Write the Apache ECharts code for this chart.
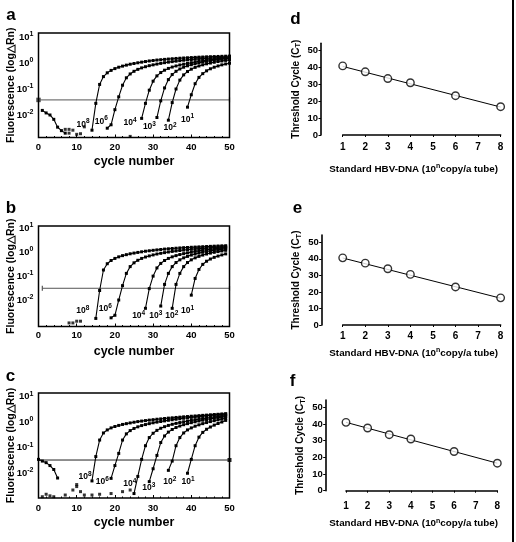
<!DOCTYPE html>
<html><head><meta charset="utf-8">
<script src="https://cdn.jsdelivr.net/npm/echarts@6/dist/echarts.min.js"></script>
<style>html,body{margin:0;padding:0;background:#fff}#c{width:516px;height:542px}</style>
</head><body><div id="c"></div>
<script>
// ---------- data ----------
const cycleTicks = [0, 10, 20, 30, 40, 50];
const exps = ['8', '6', '4', '3', '2', '1'];           // 10^n copies per tube
// panel a
const aStart = [14, 18, 27, 31, 34, 39];
const a1e8 = [0.0026,0.028,0.15,0.3,0.42,0.52,0.61,0.69,0.76,0.83,0.9,0.96,1.02,1.08,1.14,1.2,1.25,1.3,1.34,1.38,1.42,1.46,1.5,1.53,1.56,1.59,1.62,1.65,1.68,1.7,1.73,1.75,1.77,1.79,1.81,1.83,1.85];
const a1e6 = [0.0031,0.0042,0.016,0.05,0.14,0.27,0.38,0.48,0.57,0.65,0.72,0.79,0.85,0.91,0.97,1.03,1.08,1.13,1.18,1.23,1.28,1.32,1.36,1.4,1.44,1.48,1.51,1.54,1.57,1.6,1.63,1.66,1.69];
const a1e4 = [0.0074,0.028,0.09,0.2,0.32,0.43,0.53,0.62,0.7,0.77,0.84,0.9,0.96,1.03,1.1,1.17,1.23,1.29,1.35,1.4,1.45,1.5,1.55,1.6];
const a1e3 = [0.008,0.035,0.11,0.23,0.36,0.48,0.59,0.69,0.78,0.86,0.94,1.02,1.09,1.16,1.23,1.3,1.36,1.42,1.48,1.54];
const a1e2 = [0.0063,0.03,0.1,0.22,0.35,0.47,0.58,0.68,0.77,0.85,0.93,1.0,1.07,1.14,1.2,1.26,1.32];
const a1e1 = [0.02,0.06,0.16,0.28,0.39,0.5,0.6,0.69,0.77,0.85,0.92,0.98];
const aNoiseStart = 1;
const aNoise = [0.015,0.012,0.01,0.0068,0.0034,0.0025,0.002];
const aNoisePts = [[7,0.0028],[8,0.0028],[9,0.0026],[8,0.002],[10,0.0018],[11,0.0019],[12,0.0035],[24,0.0015]];
const aThreshold = 0.038;
// panel b
const bStart = [15, 19, 28, 32, 35, 40];
const b1e8 = [0.0017,0.025,0.18,0.33,0.45,0.55,0.64,0.72,0.79,0.86,0.92,0.98,1.04,1.1,1.15,1.2,1.25,1.3,1.35,1.39,1.43,1.47,1.51,1.55,1.58,1.61,1.64,1.67,1.7,1.73,1.76,1.79,1.82,1.85,1.87];
const b1e6 = [0.0018,0.0023,0.01,0.04,0.13,0.25,0.36,0.46,0.55,0.63,0.7,0.77,0.84,0.9,0.96,1.02,1.08,1.13,1.18,1.23,1.28,1.33,1.37,1.41,1.45,1.49,1.53,1.57,1.61,1.65,1.69];
const b1e4 = [0.0045,0.03,0.1,0.22,0.34,0.45,0.55,0.64,0.72,0.8,0.87,0.94,1.01,1.08,1.14,1.2,1.26,1.32,1.38,1.44,1.5,1.55];
const b1e3 = [0.0056,0.045,0.13,0.25,0.37,0.48,0.58,0.67,0.76,0.84,0.92,1.0,1.07,1.14,1.21,1.28,1.34,1.4];
const b1e2 = [0.0045,0.045,0.13,0.25,0.37,0.48,0.58,0.67,0.76,0.84,0.92,0.99,1.06,1.13,1.2];
const b1e1 = [0.016,0.08,0.19,0.31,0.42,0.52,0.61,0.69,0.77,0.85];
const bNoisePts = [[8,0.0011],[9,0.0011],[10,0.0013],[11,0.0013]];
const bThreshold = 0.031;
// panel c
const cStart = [14, 19, 25, 29, 34, 39];
const c1e8 = [0.005,0.045,0.2,0.38,0.5,0.6,0.68,0.75,0.82,0.88,0.94,1.0,1.06,1.11,1.16,1.21,1.26,1.31,1.35,1.4,1.45,1.49,1.54,1.58,1.63,1.67,1.72,1.76,1.81,1.86,1.9,1.95,2.0,2.05,2.1,2.15];
const c1e6 = [0.0063,0.02,0.06,0.2,0.35,0.47,0.57,0.66,0.74,0.81,0.88,0.95,1.01,1.07,1.13,1.19,1.25,1.31,1.37,1.43,1.49,1.55,1.61,1.67,1.73,1.79,1.85,1.91,1.97,2.03,2.1];
const c1e4 = [0.0016,0.0075,0.035,0.12,0.25,0.37,0.48,0.58,0.67,0.75,0.83,0.9,0.97,1.04,1.11,1.18,1.25,1.32,1.39,1.46,1.53,1.6,1.67,1.74,1.81];
const c1e3 = [0.0047,0.015,0.05,0.16,0.29,0.41,0.52,0.62,0.71,0.8,0.88,0.96,1.04,1.12,1.2,1.28,1.36,1.44,1.52,1.6,1.68];
const c1e2 = [0.013,0.03,0.12,0.25,0.38,0.5,0.6,0.7,0.79,0.88,0.97,1.06,1.15,1.24,1.33,1.42];
const c1e1 = [0.01,0.035,0.12,0.26,0.4,0.53,0.65,0.77,0.89,1.02,1.18];
const cNoiseStart = 0;
const cNoise = [0.035,0.03,0.026,0.02,0.014,0.0065];
const cNoisePts = [[1,0.0012],[2,0.0015],[3,0.0013],[4,0.0012],[7,0.0014],[9,0.0022],[10,0.003],[10,0.0036],[11,0.0019],[12,0.0014],[14,0.0014],[16,0.0015],[19,0.0016],[22,0.0019],[24,0.0022]];
const cThreshold = 0.033;
// panels d, e, f : threshold cycle vs log copies
const copiesN = [1, 2, 3, 4, 6, 8];
const dCt = [41, 37.5, 33.5, 31, 23.3, 16.8];
const eCt = [40.6, 37.4, 34, 30.6, 23, 16.4];
const fCt = [41, 37.6, 33.6, 31, 23.5, 16.5];
const dFit = [[1, 40.7], [8, 16.6]];
const eFit = [[1, 40.5], [8, 16.2]];
const fFit = [[1, 41], [8, 16.5]];
const ctTicks = [0, 10, 20, 30, 40, 50];

// ---------- styling / layout ----------
const FONT = '"Liberation Sans", Arial, Helvetica, sans-serif';
const B = 'bold';
const chart = echarts.init(document.getElementById('c'), null, {renderer: 'canvas'});

const grids = [
  {left: 38.5, top: 33, width: 191, height: 104.5},
  {left: 38.5, top: 226, width: 191, height: 100.5},
  {left: 38.5, top: 393, width: 191, height: 105},
  {left: 342.7, top: 43.3, width: 158, height: 91.7},
  {left: 342.7, top: 235, width: 159, height: 90},
  {left: 346, top: 400, width: 157.3, height: 90.7}
];
const logRange = [[0.00136, 14.3], [0.00078, 12.5], [0.00107, 14]];

function powLabel(v) {
  const l = Math.log10(v), n = Math.round(l);
  if (Math.abs(l - n) > 1e-6 || n < -2 || n > 1) return '';
  return '{b|10}{s|' + n + '}';
}
const powRich = {
  b: {fontSize: 9.5, fontWeight: B, fontFamily: FONT, color: '#000', lineHeight: 13},
  s: {fontSize: 7, fontWeight: B, fontFamily: FONT, color: '#000', lineHeight: 6, verticalAlign: 'top'}
};
const curveRich = {
  b: {fontSize: 8.5, fontWeight: B, fontFamily: FONT, color: '#000', lineHeight: 12},
  s: {fontSize: 6.5, fontWeight: B, fontFamily: FONT, color: '#000', lineHeight: 6, verticalAlign: 'top'}
};

const xAxes = [], yAxes = [], series = [];
const cycNameGap = [17.5, 19, 18.5], cycMargin = [5, 4, 5];
for (let i = 0; i < 3; i++) {
  xAxes.push({
    type: 'value', gridIndex: i, min: 0, max: 50, interval: 10,
    axisLine: {show: false},
    axisTick: {show: true, inside: true, length: 3, lineStyle: {color: '#000', width: 1}},
    minorTick: {show: true, splitNumber: 5, length: 1.5, lineStyle: {color: '#000'}},
    splitLine: {show: false},
    axisLabel: {customValues: cycleTicks, margin: cycMargin[i], fontSize: 9.5, fontWeight: B, fontFamily: FONT, color: '#000'},
    name: 'cycle number', nameLocation: 'middle', nameGap: cycNameGap[i],
    nameMoveOverlap: false,
    nameTextStyle: {fontSize: 12.5, fontWeight: B, fontFamily: FONT, color: '#000'}
  });
  yAxes.push({
    type: 'log', logBase: 10, gridIndex: i, min: logRange[i][0], max: logRange[i][1],
    axisLine: {show: false}, axisTick: {show: false}, splitLine: {show: false}, minorTick: {show: false},
    axisLabel: {formatter: powLabel, rich: powRich, margin: 5, showMinLabel: false, showMaxLabel: false},
    name: 'Fluorescence (log\u25B3Rn)', nameLocation: 'middle', nameGap: 22, nameRotate: 90,
    nameMoveOverlap: false,
    nameTextStyle: {fontSize: 10.5, fontWeight: B, fontFamily: FONT, color: '#000'}
  });
}
const yOffsets = [21.7, 21, 20.3], xOffsets = [2, 1, 4], xNameGaps = [26, 21, 23], xMargins = [5, 5, 6.5];
for (let k = 0; k < 3; k++) {
  const gi = k + 3;
  xAxes.push({
    type: 'value', gridIndex: gi, min: 1, max: 8, interval: 1, offset: xOffsets[k],
    axisLine: {show: true, lineStyle: {color: '#000', width: 1.6}},
    axisTick: {show: true, length: 2, lineStyle: {color: '#000'}},
    splitLine: {show: false},
    axisLabel: {margin: xMargins[k], fontSize: 10, fontWeight: B, fontFamily: FONT, color: '#000'},
    name: 'Standard HBV-DNA (10{s|n}copy/a tube)', nameLocation: 'middle', nameGap: xNameGaps[k],
    nameMoveOverlap: false,
    nameTextStyle: {fontSize: 9.8, fontWeight: B, fontFamily: FONT, color: '#000', lineHeight: 12,
      padding: [0, 16, 0, 0],
      rich: {s: {fontSize: 7, fontWeight: B, fontFamily: FONT, color: '#000', lineHeight: 6, verticalAlign: 'top'}}}
  });
  yAxes.push({
    type: 'value', gridIndex: gi, min: 0, max: 54.4, offset: yOffsets[k],
    axisLine: {show: true, lineStyle: {color: '#000', width: 1.6}},
    axisTick: {show: true, length: 2.5, customValues: ctTicks, lineStyle: {color: '#000'}},
    splitLine: {show: false},
    axisLabel: {customValues: ctTicks, margin: 3, fontSize: 9.5, fontWeight: B, fontFamily: FONT, color: '#000'},
    name: 'Threshold Cycle (C{t|T})', nameLocation: 'middle', nameGap: 19, nameRotate: 90,
    nameMoveOverlap: false,
    nameTextStyle: {fontSize: 10, fontWeight: B, fontFamily: FONT, color: '#000', lineHeight: 12,
      rich: {t: {fontSize: 7.5, fontWeight: B, fontFamily: FONT, color: '#000', lineHeight: 7, verticalAlign: 'bottom'}}}
  });
}

function curve(gi, start, vals, exp, off) {
  return {
    type: 'line', xAxisIndex: gi, yAxisIndex: gi, silent: true, animation: false,
    symbol: 'rect', symbolSize: 3, showAllSymbol: true,
    lineStyle: {color: '#000', width: 1.1}, itemStyle: {color: '#000'},
    data: vals.map((v, i) => {
      const item = {value: [start + i, v]};
      if (i === 0) item.label = {show: true, position: 'inside', offset: off,
        formatter: '{b|10}{s|' + exp + '}', rich: curveRich};
      return item;
    })
  };
}
const labelOffsets = [
  [[-9, -6], [-6, -7], [-11.5, 4], [-7.5, 9], [1.6, 7.5], [0, 12]],
  [[-13, -8], [-5.8, -9], [-6.8, 7.6], [-5, 10], [-0.4, 7.3], [-3.8, 15.4]],
  [[-7, -4], [-8.8, 3.4], [-4.2, -9.4], [-0.5, 5.6], [1.4, 11.3], [0.5, 8.5]]
];
const curveSets = [[a1e8, a1e6, a1e4, a1e3, a1e2, a1e1], [b1e8, b1e6, b1e4, b1e3, b1e2, b1e1], [c1e8, c1e6, c1e4, c1e3, c1e2, c1e1]];
const starts = [aStart, bStart, cStart];
for (let p = 0; p < 3; p++) {
  for (let j = 0; j < 6; j++) series.push(curve(p, starts[p][j], curveSets[p][j], exps[j], labelOffsets[p][j]));
}
function noiseLine(gi, start, vals) {
  return {type: 'line', xAxisIndex: gi, yAxisIndex: gi, silent: true, animation: false,
    symbol: 'rect', symbolSize: 3, lineStyle: {color: '#000', width: 1.1}, itemStyle: {color: '#000'},
    data: vals.map((v, i) => [start + i, v])};
}
function noisePts(gi, pts) {
  return {type: 'scatter', xAxisIndex: gi, yAxisIndex: gi, silent: true, animation: false,
    symbol: 'rect', symbolSize: 3, itemStyle: {color: '#000'}, data: pts};
}
series.push(noiseLine(0, aNoiseStart, aNoise), noisePts(0, aNoisePts));
series.push(noisePts(1, bNoisePts));
series.push(noiseLine(2, cNoiseStart, cNoise), noisePts(2, cNoisePts));
function thr(gi, x0, x1, v, s0, s1, color) {
  return {type: 'line', xAxisIndex: gi, yAxisIndex: gi, silent: true, animation: false, z: 1,
    lineStyle: {color: color, width: 1}, itemStyle: {color: color},
    data: [{value: [x0, v], symbol: s0 ? 'rect' : 'none', symbolSize: s0 || 0},
           {value: [x1, v], symbol: s1 ? 'rect' : 'none', symbolSize: s1 || 0}]};
}
series.push(thr(0, 0, 50, aThreshold, 4.5, [1.2, 5], '#555'));
series.push(thr(1, 1, 50, bThreshold, [1.2, 5], [1.2, 5], '#555'));
series.push(thr(2, 0, 50, cThreshold, 0, 4, '#222'));

const ctSets = [dCt, eCt, fCt], fits = [dFit, eFit, fFit];
for (let k = 0; k < 3; k++) {
  const gi = k + 3;
  series.push({type: 'line', xAxisIndex: gi, yAxisIndex: gi, silent: true, animation: false, symbol: 'none',
    lineStyle: {color: '#000', width: 1}, data: fits[k]});
  series.push({type: 'scatter', xAxisIndex: gi, yAxisIndex: gi, silent: true, animation: false, z: 3,
    symbol: 'circle', symbolSize: 7.5,
    itemStyle: {color: '#fff', borderColor: '#000', borderWidth: 1.4},
    data: copiesN.map((n, i) => [n, ctSets[k][i]])});
}

const letters = [['a', 11, 15], ['b', 11, 208], ['c', 10.5, 376], ['d', 295.5, 19.5], ['e', 297.5, 208.5], ['f', 292.7, 381.5]];
const graphic = letters.map(([t, x, y]) => ({type: 'text', x: x, y: y, silent: true,
  style: {text: t, fill: '#000', font: 'bold 17px ' + FONT, textAlign: 'center', textVerticalAlign: 'middle'}}));
graphic.push({type: 'line', silent: true, shape: {x1: 513, y1: 0, x2: 513, y2: 542}, style: {stroke: '#000', lineWidth: 2}});
const frames = [0, 1, 2].map(i => ({type: 'rect', silent: true, z: 10,
  shape: {x: grids[i].left, y: grids[i].top, width: grids[i].width, height: grids[i].height},
  style: {fill: 'none', stroke: '#000', lineWidth: 1.5}}));

chart.setOption({
  backgroundColor: '#fff', animation: false,
  grid: grids.map(g => Object.assign({show: false, containLabel: false}, g)),
  xAxis: xAxes, yAxis: yAxes, series: series,
  graphic: graphic.concat(frames)
});
</script></body></html>
